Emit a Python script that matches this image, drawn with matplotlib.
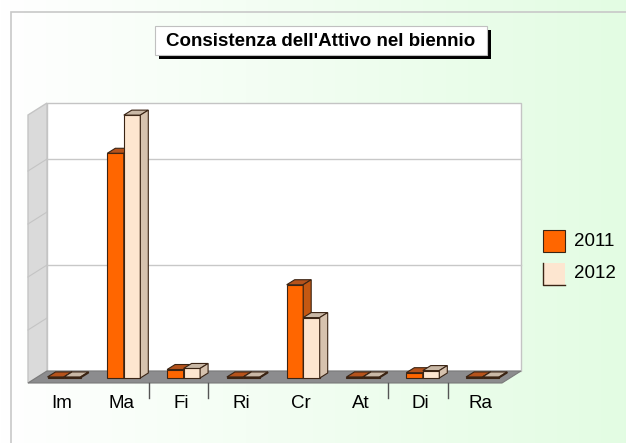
import numpy as np
import matplotlib.pyplot as plt
from matplotlib.patches import Polygon, Rectangle

plt.rcParams['font.family'] = ['Liberation Sans', 'DejaVu Sans']

# dati (unita' arbitrarie)
categorie = ["Im", "Ma", "Fi", "Ri", "Cr", "At", "Di", "Ra"]
anno_2011 = [1, 212, 8, 1, 88, 1, 5, 1]
anno_2012 = [1, 248, 9, 1, 57, 1, 7, 1]
serie = ["2011", "2012"]
griglia = [100, 200]
griglia_lato = [50, 100, 150, 200]
separatori = [1, 2, 5, 6]   # separatori visibili dopo queste categorie
titolo = "Consistenza dell'Attivo nel biennio"

# colori
col_front = ["#ff6600", "#fde6d0"]
col_top = ["#b5531c", "#c9b8a6"]
col_side = ["#c45812", "#d6c2ae"]
col_edge = "#3a2414"

W, H = 626, 443
fig = plt.figure(figsize=(W / 100, H / 100), dpi=100)

# sfondo sfumato bianco -> verde
bg = fig.add_axes([0, 0, 1, 1])
grad = np.linspace(0, 1, 256)[None, :]
c0 = np.array([1.0, 1.0, 1.0])
c1 = np.array([0.89, 0.99, 0.89])
img = c0[None, None, :] * (1 - grad[..., None]) + c1[None, None, :] * grad[..., None]
bg.imshow(img, aspect="auto", extent=[0, 1, 0, 1])
bg.set_xlim(0, 1)
bg.set_ylim(0, 1)
bg.axis("off")
# cornice
fig.patches.append(Rectangle((11 / W, -0.01), 1.0, 1 - 12 / H + 0.01, transform=fig.transFigure,
                             fill=False, ec="#c8c8c8", lw=1.2))

# assi principali: x in categorie, y in valori
ax = fig.add_axes([0, 0, 1, 1])
ax.patch.set_alpha(0)
sx = 59.8   # px per categoria
sy = 1.06   # px per unita'
x0, y0 = 64, 378
ax.set_xlim(-x0 / sx, (W - x0) / sx)
ax.set_ylim((y0 - H) / sy, y0 / sy)
ax.axis("off")

n = len(categorie)
wdx, wdy = 19 / sx, 12 / sy   # profondita' pareti
v_f = -5 / sy                 # bordo anteriore pavimento
v_b = v_f + wdy
x_l = (28 - x0) / sx
x_r = (502 - x0) / sx
v_top = (y0 - 103) / sy

# parete di fondo
ax.add_patch(Polygon([(x_l + wdx, v_b), (x_r + wdx, v_b), (x_r + wdx, v_top), (x_l + wdx, v_top)],
                     closed=True, fc="white", ec="#c4c4c4", lw=1, zorder=1))
for g in griglia:
    ax.plot([x_l + wdx, x_r + wdx], [v_b + g, v_b + g], color="#c8c8c8", lw=1, zorder=1.5)
# parete sinistra
ax.add_patch(Polygon([(x_l, v_f), (x_l + wdx, v_b), (x_l + wdx, v_top), (x_l, v_top - wdy)],
                     closed=True, fc="#dadada", ec="#c4c4c4", lw=1, zorder=1))
for g in griglia_lato:
    ax.plot([x_l, x_l + wdx], [v_f + g, v_b + g], color="#c4c4c4", lw=0.8, zorder=1.5)
# pavimento
ax.add_patch(Polygon([(x_l, v_f), (x_r, v_f), (x_r + wdx, v_b), (x_l + wdx, v_b)],
                     closed=True, fc="#8c8c8e", ec="#7a7a7a", lw=0.8, zorder=2))

# barre 3D
bw = 16.5 / sx
ddx, ddy = 8 / sx, 5 / sy
x = np.arange(n)
for k, vals in enumerate([anno_2011, anno_2012]):
    left = x - bw + k * bw
    ax.bar(left, vals, width=bw, align="edge", color=col_front[k], edgecolor=col_edge,
           lw=0.8, zorder=3 + k)
    for xl, v in zip(left, vals):
        ax.add_patch(Polygon([(xl, v), (xl + bw, v), (xl + bw + ddx, v + ddy), (xl + ddx, v + ddy)],
                             closed=True, fc=col_top[k], ec=col_edge, lw=0.8, zorder=3 + k))
        ax.add_patch(Polygon([(xl + bw, 0), (xl + bw + ddx, ddy), (xl + bw + ddx, v + ddy), (xl + bw, v)],
                             closed=True, fc=col_side[k], ec=col_edge, lw=0.8, zorder=3 + k))

# separatori e etichette
for i in separatori:
    xs = i + 0.5 - 5 / sx
    ax.plot([xs, xs], [v_f, v_f - 15 / sy], color="#555555", lw=1, zorder=2)
for i, c in enumerate(categorie):
    ax.text(i - 2 / sx, (y0 - 404) / sy, c, ha="center", va="center", fontsize=13.5, zorder=5)

# titolo con ombra
fig.patches.append(Rectangle((159 / W, 1 - 59 / H), 332 / W, 29 / H, transform=fig.transFigure,
                             fc="black", ec="none"))
fig.patches.append(Rectangle((155 / W, 1 - 55 / H), 332 / W, 29 / H, transform=fig.transFigure,
                             fc="white", ec="#c0c0c0", lw=0.8))
fig.text(321 / W, 1 - 41 / H, titolo, ha="center", va="center", fontsize=13.5, fontweight="bold")

# legenda
for k, s in enumerate(serie):
    ytop = 230 + k * 33
    xl, yb = 543 / W, 1 - (ytop + 22) / H
    if k == 0:
        fig.patches.append(Rectangle((xl, yb), 22 / W, 22 / H, transform=fig.transFigure,
                                     fc=col_front[k], ec=col_edge, lw=0.8))
    else:
        fig.patches.append(Rectangle((xl, yb), 22 / W, 22 / H, transform=fig.transFigure,
                                     fc=col_front[k], ec="none"))
        fig.lines.append(plt.Line2D([xl, xl, xl + 22 / W], [yb + 22 / H, yb, yb],
                                    transform=fig.transFigure, color=col_edge, lw=1))
    fig.text(574 / W, 1 - (ytop + 11) / H, s, ha="left", va="center", fontsize=13.5)

fig.savefig("out.png", dpi=100)
